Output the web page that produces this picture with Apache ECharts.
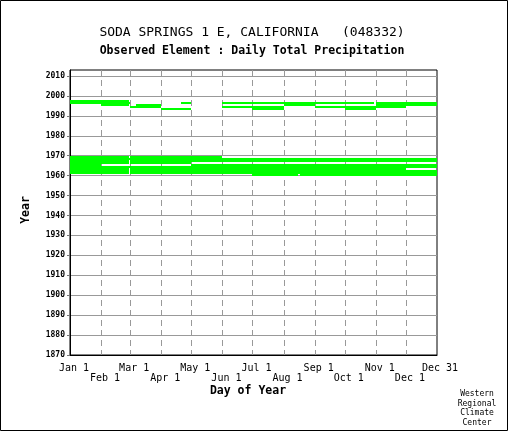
<!DOCTYPE html>
<html>
<head>
<meta charset="utf-8">
<script src="https://cdn.jsdelivr.net/npm/echarts@6/dist/echarts.min.js"></script>
<style>
html, body { margin: 0; padding: 0; background: #fff; }
#chart { width: 510px; height: 433px; }
</style>
</head>
<body>
<div id="chart"></div>
<script>
// day of year, leap-year numbering (Feb 29 = day 59)
var monthLabels = ['Jan 1', 'Feb 1', 'Mar 1', 'Apr 1', 'May 1', 'Jun 1', 'Jul 1',
	'Aug 1', 'Sep 1', 'Oct 1', 'Nov 1', 'Dec 1', 'Dec 31']
var monthDays = [0, 31, 60, 91, 121, 152, 182, 213, 244, 274, 305, 335, 365]
var yearTicks = [1870, 1880, 1890, 1900, 1910, 1920, 1930, 1940, 1950, 1960, 1970, 1980, 1990, 2000, 2010]

// [year, first day, last day] of each run of observed days
var spans1990s = [
	[1997, 0, 59],
	[1996, 0, 60], [1996, 111, 121], [1996, 152, 303], [1996, 305, 366],
	[1995, 31, 59], [1995, 66, 91], [1995, 213, 244], [1995, 305, 366],
	[1994, 60, 91], [1994, 152, 213], [1994, 244, 335],
	[1993, 91, 121], [1993, 182, 213], [1993, 274, 305]
]
var spans1960s = [
	[1969, 0, 59], [1969, 60, 152],
	[1968, 0, 366],
	[1967, 0, 59], [1967, 60, 366],
	[1966, 0, 59], [1966, 60, 121],
	[1965, 0, 31], [1965, 121, 366],
	[1964, 0, 366],
	[1963, 0, 59], [1963, 60, 335],
	[1962, 0, 59], [1962, 60, 366],
	[1961, 0, 59], [1961, 60, 366],
	[1960, 182, 227], [1960, 229, 366]
]

var mono = 'DejaVu Sans Mono'
var green = '#00ff00'

var chart = echarts.init(document.getElementById('chart'))

// 标签分两行交错
var upperDays = monthDays.filter(function(d, i) { return i % 2 === 0 })
var lowerDays = monthDays.filter(function(d, i) { return i % 2 === 1 })

function dayAxis(days, margin, show) {
	return {
		type: 'value',
		position: 'bottom',
		min: 0,
		max: 366,
		axisLine: { show: show, lineStyle: { color: '#000' } },
		axisTick: { show: false },
		splitLine: { show: false },
		axisLabel: {
			customValues: days,
			showMinLabel: true,
			showMaxLabel: true,
			hideOverlap: false,
			formatter: function(v) { return monthLabels[monthDays.indexOf(v)] },
			fontFamily: mono,
			fontSize: 10,
			color: '#000',
			margin: margin,
			padding: [0, 0, 0, 8]
		}
	}
}

var option = {}
option.animation = false
option.backgroundColor = '#fff'

option.grid = {
	left: 70,
	right: 73,
	top: 70,
	bottom: 78,
	show: true,
	borderColor: '#000',
	borderWidth: 1
}

option.xAxis = [dayAxis(upperDays, 8, true), dayAxis(lowerDays, 18, false)]

option.yAxis = {
	type: 'value',
	min: 1870,
	max: 2013,
	interval: 10,
	axisLine: { show: true, lineStyle: { color: '#000' } },
	axisTick: { show: true, length: 3, customValues: yearTicks, lineStyle: { color: '#777' } },
	splitLine: { show: true, lineStyle: { color: '#999' } },
	axisLabel: {
		customValues: yearTicks,
		showMinLabel: true,
		hideOverlap: false,
		formatter: function(v) { return String(v) },
		fontFamily: mono,
		fontWeight: 'bold',
		fontSize: 8,
		color: '#000',
		margin: 5
	}
}

// 一年一行的矩形
function renderSpan(params, api) {
	var p0 = api.coord([api.value(1), api.value(0) + 1])
	var p1 = api.coord([api.value(2), api.value(0)])
	var x0 = Math.round(p0[0]), y0 = Math.round(p0[1])
	return {
		type: 'rect',
		shape: { x: x0, y: y0, width: Math.round(p1[0]) - x0, height: Math.round(p1[1]) - y0 },
		style: { fill: green }
	}
}

// month grid lines
function renderMonth(params, api) {
	var top = api.coord([api.value(0), 2013])
	var bot = api.coord([api.value(0), 1870])
	var x = Math.round(top[0]) + 0.5
	return {
		type: 'line',
		shape: { x1: x, y1: top[1], x2: x, y2: bot[1] },
		style: { stroke: '#999', lineWidth: 1, lineDash: [6, 4] }
	}
}

option.series = [{
	type: 'custom',
	z: 1,
	silent: true,
	renderItem: renderMonth,
	data: monthDays.slice(1, 12).map(function(d) { return [d] })
}, {
	type: 'custom',
	z: 2,
	silent: true,
	renderItem: renderSpan,
	encode: { x: [1, 2], y: 0 },
	data: spans1990s.concat(spans1960s)
}]

option.graphic = [{
	type: 'rect',
	shape: { x: 0.5, y: 0.5, width: 507, height: 430 },
	style: { fill: 'none', stroke: '#000', lineWidth: 1 }
}, {
	type: 'text',
	x: 252, y: 33,
	style: {
		text: 'SODA SPRINGS 1 E, CALIFORNIA   (048332)',
		font: '13px "DejaVu Sans Mono"',
		fill: '#000', align: 'center', verticalAlign: 'middle'
	}
}, {
	type: 'text',
	x: 252, y: 51.5,
	style: {
		text: 'Observed Element : Daily Total Precipitation',
		font: 'bold 11.5px "DejaVu Sans Mono"',
		fill: '#000', align: 'center', verticalAlign: 'middle'
	}
}, {
	type: 'text',
	x: 248, y: 391,
	style: {
		text: 'Day of Year',
		font: 'bold 11.5px "DejaVu Sans Mono"',
		fill: '#000', align: 'center', verticalAlign: 'middle'
	}
}, {
	type: 'text',
	x: 26, y: 210,
	rotation: Math.PI / 2,
	style: {
		text: 'Year',
		font: 'bold 11.5px "DejaVu Sans Mono"',
		fill: '#000', align: 'center', verticalAlign: 'middle'
	}
}, {
	type: 'text',
	x: 477, y: 408.5,
	style: {
		text: 'Western\nRegional\nClimate\nCenter',
		font: '8px "DejaVu Sans Mono"',
		lineHeight: 9.7,
		fill: '#000', align: 'center', verticalAlign: 'middle'
	}
}]

chart.setOption(option)
</script>
</body>
</html>
